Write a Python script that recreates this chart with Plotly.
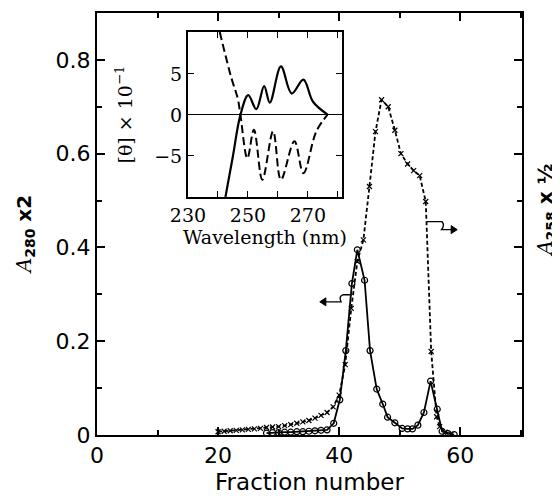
import plotly.graph_objects as go

# ---------------- data ----------------
# A280 x 2 (solid line, open circles)
frac_280 = [28, 29, 30, 31, 32, 33, 34, 35, 36, 37, 38, 39.1, 40.1, 41.1, 42.1, 43.0,
            44.2, 45.1, 46.2, 47.2, 48.0, 49.2, 50.4, 51.3, 52.1, 53.0, 54.0, 55.1,
            56.2, 57.0, 58.0, 59.0]
a280 = [0.004, 0.005, 0.005, 0.006, 0.006, 0.007, 0.007, 0.008, 0.009, 0.010, 0.011,
        0.025, 0.075, 0.18, 0.323, 0.395, 0.33, 0.18, 0.098, 0.066, 0.038, 0.026,
        0.014, 0.013, 0.013, 0.021, 0.048, 0.115, 0.055, 0.008, 0.003, 0.001]

# A258 x 1/2 (dashed line, crosses)
frac_258 = [20, 21, 22, 23, 24, 25, 26, 27, 28, 29, 30, 31, 32, 33, 34, 35, 36, 37, 38,
            39, 40, 41, 42, 43, 44, 45, 46, 47, 48.1, 49.2, 50.2, 51.3, 52.3, 53.3, 54.3,
            55.2, 56.1, 56.6, 57.5, 58.5]
a258 = [0.007, 0.008, 0.009, 0.010, 0.011, 0.012, 0.013, 0.014, 0.016, 0.017, 0.018,
        0.020, 0.022, 0.025, 0.028, 0.031, 0.036, 0.042, 0.048, 0.060, 0.085, 0.15,
        0.27, 0.37, 0.416, 0.53, 0.647, 0.715, 0.70, 0.65, 0.60, 0.578, 0.564, 0.553,
        0.498, 0.178, 0.039, 0.018, 0.006, 0.002]

# Inset CD spectra
wl_solid = [242.5, 245.0, 247.5, 250.1, 252.8, 255.4, 257.3, 261.0, 264.6, 268.5, 271.7, 276.7]
cd_solid = [-10.0, -5.0, 0.0, 2.4, 0.7, 3.5, 1.5, 5.9, 2.6, 4.3, 1.6, 0.0]
wl_dash = [240.6, 244.4, 246.6, 247.5, 249.8, 252.0, 254.8, 258.4, 261.0, 265.5, 268.5, 272.8, 276.5]
cd_dash = [10.1, 4.6, 2.0, 0.0, -5.3, -1.8, -7.9, -2.0, -7.9, -3.2, -7.1, -2.0, 0.0]

x_ticks = [0, 20, 40, 60]
x_ticklabels = ['0', '20', '40', '60']
y_ticks = [0, 0.2, 0.4, 0.6, 0.8]
y_ticklabels = ['0', '0.2', '0.4', '0.6', '0.8']
in_x_ticks = [230, 250, 270]
in_x_ticklabels = ['230', '250', '270']
in_y_ticks = [-5, 0, 5]
in_y_ticklabels = ['\u22125', '0', '5']

SANS = 'DejaVu Sans'
SERIF = 'DejaVu Serif'

fig = go.Figure()

fig.add_trace(go.Scatter(
    x=frac_280, y=a280, mode='lines+markers', name='A280 x2',
    line=dict(color='black', width=1.8),
    marker=dict(symbol='circle-open', size=6, color='black', line=dict(width=1.2)),
    xaxis='x', yaxis='y'))

fig.add_trace(go.Scatter(
    x=frac_258, y=a258, mode='lines+markers', name='A258 x 1/2',
    line=dict(color='black', width=1.8, dash='4px,2.5px'),
    marker=dict(symbol='x-thin-open', size=5, color='black', line=dict(width=1.2)),
    xaxis='x', yaxis='y'))

fig.add_trace(go.Scatter(
    x=wl_solid, y=cd_solid, mode='lines', line=dict(color='black', width=2.2, shape='spline'),
    xaxis='x2', yaxis='y2', showlegend=False))
fig.add_trace(go.Scatter(
    x=wl_dash, y=cd_dash, mode='lines',
    line=dict(color='black', width=2.0, dash='8px,4px', shape='spline'),
    xaxis='x2', yaxis='y2', showlegend=False))

axis_common = dict(showgrid=False, zeroline=False, showline=True, linecolor='black',
                   linewidth=2, ticks='inside', tickcolor='black', mirror='ticks',
                   automargin=False)

# the page body adds an 8 px offset, so the figure is sized to fit the window
fig.update_layout(
    width=552, height=490,
    margin=dict(l=89, r=38, t=5, b=63),
    paper_bgcolor='white', plot_bgcolor='white',
    showlegend=False,
    xaxis=dict(**axis_common, range=[0, 70.2], tickvals=x_ticks, ticktext=x_ticklabels,
               ticklen=8, tickwidth=1.5,
               minor=dict(dtick=10, tick0=0, ticks='inside', ticklen=5, tickcolor='black'),
               tickfont=dict(family=SANS, size=22, color='black'),
               title=dict(text='Fraction number', font=dict(family=SANS, size=23, color='black'),
                          standoff=6)),
    yaxis=dict(**axis_common, range=[0, 0.9], tickvals=y_ticks, ticktext=y_ticklabels,
               ticklen=8, tickwidth=1.5,
               minor=dict(dtick=0.1, tick0=0, ticks='inside', ticklen=5, tickcolor='black'),
               tickfont=dict(family=SANS, size=22, color='black')),
    xaxis2=dict(**axis_common, domain=[0.214, 0.576], anchor='y2', range=[230, 281.3],
                tickvals=in_x_ticks, ticktext=in_x_ticklabels, ticklen=6,
                minor=dict(dtick=10, tick0=230, ticks='inside', ticklen=6, tickcolor='black'),
                tickfont=dict(family=SERIF, size=19, color='black'),
                title=dict(text='Wavelength (nm)', font=dict(family=SERIF, size=19, color='black'),
                           standoff=4)),
    yaxis2=dict(showgrid=False, showline=True, linecolor='black', linewidth=2,
                ticks='inside', tickcolor='black', mirror='ticks', automargin=False,
                domain=[0.564, 0.955], anchor='x2', range=[-10, 10.1],
                tickvals=in_y_ticks, ticktext=in_y_ticklabels, ticklen=6,
                zeroline=True, zerolinecolor='black', zerolinewidth=1,
                tickfont=dict(family=SERIF, size=19, color='black'),
                title=dict(text='[\u03b8] \u00d7 10<sup>\u22121</sup>',
                           font=dict(family=SERIF, size=19, color='black'), standoff=16)),
)

# y-axis titles as annotations
fig.add_annotation(
    text='<span style="font-family:DejaVu Serif"><i>A</i></span><sub><b>280</b></sub><b> x2</b>',
    xref='paper', yref='paper', x=-0.170, y=0.475, textangle=-90, showarrow=False,
    font=dict(family=SANS, size=20, color='black'), xanchor='center', yanchor='middle')
fig.add_annotation(
    text='<span style="font-family:DejaVu Serif"><i>A</i></span><sub><b>258</b></sub><b> x \u00bd</b>',
    xref='paper', yref='paper', x=1.056, y=0.533, textangle=-90, showarrow=False,
    font=dict(family=SANS, size=20, color='black'), xanchor='center', yanchor='middle')

# curve-to-axis pointer arrows (hooked line + small arrowhead)
fig.add_shape(type='path', xref='x', yref='y',
              path='M 54.5 0.455 L 57.0 0.455 Q 57.5 0.448 56.9 0.438 L 58.8 0.438',
              line=dict(color='black', width=1.4))
fig.add_shape(type='path', xref='x', yref='y',
              path='M 59.5 0.438 L 58.5 0.4465 L 58.5 0.4295 Z',
              line=dict(color='black', width=1), fillcolor='black')
fig.add_shape(type='path', xref='x', yref='y',
              path='M 42.1 0.299 L 40.6 0.299 Q 39.9 0.296 40.3 0.284 L 37.6 0.284',
              line=dict(color='black', width=1.4))
fig.add_shape(type='path', xref='x', yref='y',
              path='M 36.8 0.284 L 37.8 0.2925 L 37.8 0.2755 Z',
              line=dict(color='black', width=1), fillcolor='black')

fig.write_html('out.html')
